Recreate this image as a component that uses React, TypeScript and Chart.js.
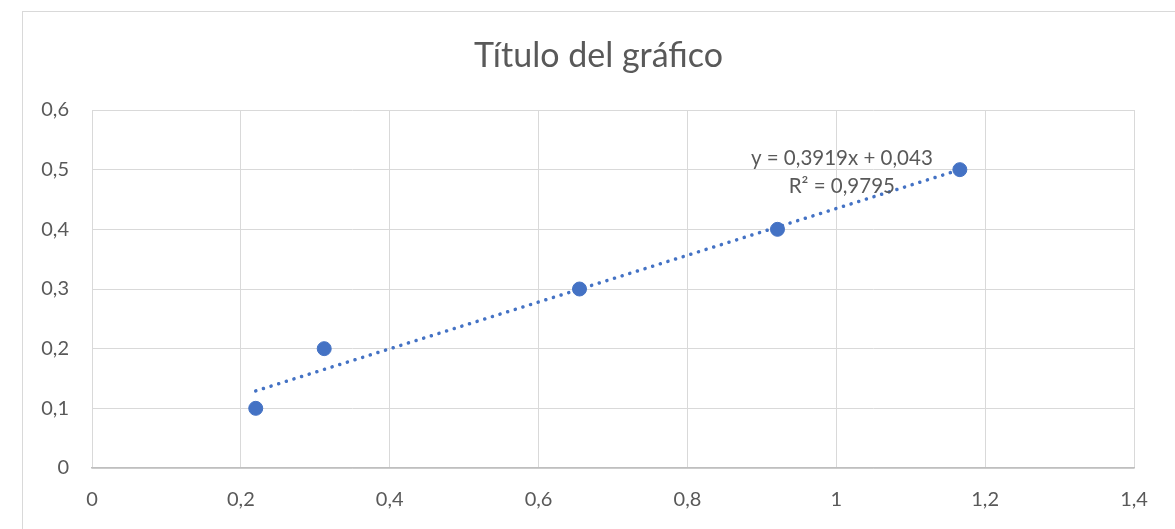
import React, { useEffect, useRef } from "react";
import { Chart, registerables } from "chart.js";
Chart.register(...registerables);

const xValues = [0.22, 0.312, 0.655, 0.921, 1.166];
const yValues = [0.1, 0.2, 0.3, 0.4, 0.5];
const trendSlope = 0.3919;
const trendIntercept = 0.043;
const chartTitle = "Título del gráfico";
const equationText = "y = 0,3919x + 0,043";
const r2Text = "R² = 0,9795";

const FONT = "Lato, 'Open Sans', sans-serif";
const TEXT_GRAY = "#595959";
const BLUE = "#4472C4";

const fmt = (v: number) => (Math.round(v * 10) / 10).toString().replace(".", ",");

export default function App() {
  const ref = useRef<HTMLCanvasElement | null>(null);
  useEffect(() => {
    if (!ref.current) return;
    const xMin = Math.min(...xValues);
    const xMax = Math.max(...xValues);
    const trend = [
      { x: xMin, y: trendSlope * xMin + trendIntercept },
      { x: xMax, y: trendSlope * xMax + trendIntercept },
    ];
    const overlay = {
      id: "overlay",
      afterDraw(chart: any) {
        const ctx = chart.ctx;
        ctx.save();
        ctx.fillStyle = TEXT_GRAY;
        ctx.textAlign = "center";
        ctx.textBaseline = "alphabetic";
        ctx.font = `34px ${FONT}`;
        ctx.fillText(chartTitle, 598.5, 67);
        const xs = chart.scales.x;
        const ys = chart.scales.y;
        const lx = xs.getPixelForValue(xValues[xValues.length - 1]);
        const ly = ys.getPixelForValue(yValues[yValues.length - 1]);
        ctx.font = `20.5px ${FONT}`;
        ctx.fillText(equationText, lx - 118, ly - 5);
        ctx.fillText(r2Text, lx - 118, ly + 23);
        ctx.restore();
      },
    };
    const chart = new Chart(ref.current, {
      type: "scatter",
      data: {
        datasets: [
          {
            type: "line",
            data: trend,
            borderColor: BLUE,
            borderWidth: 3.5,
            borderDash: [0.1, 7.9],
            borderCapStyle: "round",
            pointRadius: 0,
            fill: false,
            order: 2,
          } as any,
          {
            data: xValues.map((x, i) => ({ x, y: yValues[i] })),
            backgroundColor: BLUE,
            borderColor: BLUE,
            pointRadius: 7,
            order: 1,
          },
        ],
      },
      options: {
        responsive: false,
        animation: false,
        layout: { padding: { left: 0, top: 110, right: 41, bottom: 0 } },
        plugins: { legend: { display: false }, tooltip: { enabled: false }, title: { display: false } },
        scales: {
          x: {
            type: "linear",
            min: 0,
            max: 1.4,
            ticks: { stepSize: 0.2, callback: (v: any) => fmt(Number(v)), color: TEXT_GRAY, font: { family: FONT, size: 20 }, padding: 20, maxRotation: 0 },
            grid: { color: "#d9d9d9", lineWidth: 1, drawTicks: false },
            border: { color: "#bfbfbf", width: 1.5 },
            afterFit: (s: any) => { s.height = 61; },
          },
          y: {
            type: "linear",
            min: 0,
            max: 0.6,
            ticks: { stepSize: 0.1, callback: (v: any) => fmt(Number(v)), color: TEXT_GRAY, font: { family: FONT, size: 20 }, padding: 23 },
            grid: { color: "#d9d9d9", lineWidth: 1, drawTicks: false },
            border: { display: false },
            afterFit: (s: any) => { s.width = 92; },
          },
        },
      },
      plugins: [overlay],
    });
    return () => chart.destroy();
  }, []);
  return (
    <div style={{ position: "fixed", left: 0, top: 0, width: 1175, height: 529, background: "#fff", overflow: "hidden" }}>
      <div style={{ position: "absolute", left: 22, top: 11, width: 1300, height: 700, border: "1px solid #d9d9d9" }} />
      <canvas ref={ref} width={1175} height={529} style={{ position: "absolute", left: 0, top: 0 }} />
    </div>
  );
}
